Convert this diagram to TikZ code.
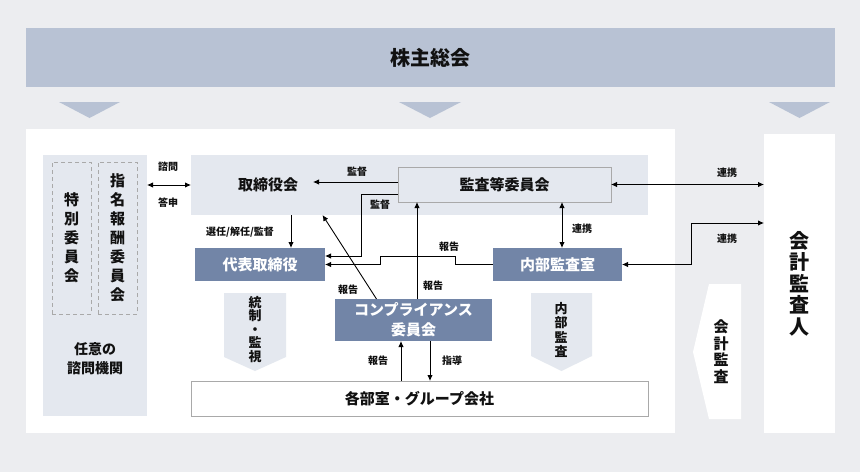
\documentclass[tikz,border=0pt]{standalone}
\usepackage{fontspec}
\setmainfont{Noto Sans CJK JP}
\usetikzlibrary{arrows.meta}
\definecolor{bgc}{HTML}{ECEDF0}
\definecolor{bandc}{HTML}{B8C2D4}
\definecolor{panelc}{HTML}{E4E8EF}
\definecolor{darkc}{HTML}{7285A7}
\definecolor{linec}{HTML}{A9A9A9}
\definecolor{txtc}{HTML}{111111}
\begin{document}
\begin{tikzpicture}[x=1pt, y=-1pt, >={Latex[length=6pt,width=5.5pt]}, text=txtc,
    box/.style={inner sep=0pt, outer sep=0pt, align=center},
    darkbox/.style={box, fill=darkc, text=white, font=\fontsize{15}{20}\selectfont\bfseries},
    dashbox/.style={box, draw=linec, line width=0.6pt, dash pattern=on 4pt off 3pt, minimum width=39pt, minimum height=152pt, font=\fontsize{15}{19}\selectfont\bfseries},
    lbl/.style={inner sep=0pt, font=\fontsize{10}{10}\selectfont\bfseries},
    conn/.style={line width=0.9pt}]
  % background
  \fill[bgc] (0,0) rectangle (860,472);
  \useasboundingbox (0,0) rectangle (860,472);
  \node[box, fill=bandc, minimum width=809pt, minimum height=59pt, font=\fontsize{20}{20}\selectfont\bfseries] (meeting) at (430.5,57.5) {株主総会};
  \fill[bandc] (59,102) -- (120,102) -- (89.5,118) -- cycle;
  \fill[bandc] (399,102) -- (461,102) -- (430,118) -- cycle;
  \fill[bandc] (769,102) -- (830,102) -- (799.5,118) -- cycle;
  % panels
  \node[box, fill=white, minimum width=649pt, minimum height=304pt] (main) at (350.5,281) {};
  \node[box, fill=white, minimum width=71pt, minimum height=299pt, font=\fontsize{20}{21.5}\selectfont\bfseries] (cpa) at (799.5,283.5) {会\\計\\監\\査\\人};
  \node[box, fill=panelc, minimum width=104pt, minimum height=261pt] (adv) at (95,285.5) {};
  \node[dashbox] (special) at (71.5,238) {特\\別\\委\\員\\会};
  \node[dashbox] (nomination) at (117.5,238) {指\\名\\報\\酬\\委\\員\\会};
  \node[box, font=\fontsize{14}{19}\selectfont\bfseries] (advlbl) at (95,359) {任意の\\諮問機関};
  \node[box, fill=panelc, minimum width=457pt, minimum height=60pt] (board) at (419.5,185) {};
  \node[box, inner xsep=15pt, font=\fontsize{15}{20}\selectfont\bfseries] (boardlbl) at (268,185) {取締役会};
  \node[box, fill=panelc, draw=linec, line width=1pt, minimum width=213pt, minimum height=35pt, font=\fontsize{15}{20}\selectfont\bfseries] (auditcom) at (504.5,184.5) {監査等委員会};
  \node[darkbox, minimum width=130pt, minimum height=33pt] (ceo) at (260,264.5) {代表取締役};
  \node[darkbox, minimum width=129pt, minimum height=33pt] (iad) at (557.5,264.5) {内部監査室};
  \node[darkbox, minimum width=157pt, minimum height=42pt] (comp) at (413.5,320) {コンプライアンス\\委員会};
  \node[box, fill=white, draw=linec, line width=1pt, minimum width=457pt, minimum height=35pt, font=\fontsize{15}{20}\selectfont\bfseries] (depts) at (419.5,398.5) {各部室・グループ会社};
  % chevrons
  \fill[panelc] (224,293) -- (286,293) -- (286,357) -- (255,371) -- (224,357) -- cycle;
  \node[box, font=\fontsize{13}{13.5}\selectfont\bfseries] (control) at (255,329.5) {統\\制\\・\\監\\視};
  \fill[panelc] (531,293) -- (592,293) -- (592,356) -- (561.5,371) -- (531,356) -- cycle;
  \node[box, font=\fontsize{13}{14.5}\selectfont\bfseries] (internal) at (561,330) {内\\部\\監\\査};
  \fill[white] (741,284) -- (741,419) -- (709,419) -- (693,352) -- (709,284) -- cycle;
  \node[box, font=\fontsize{15}{16.5}\selectfont\bfseries] (accaudit) at (721,351.5) {会\\計\\監\\査};
  % connectors
  \draw[conn, <->] (adv.east |- board.west) -- (board.west);
  \node[lbl] (l1) at (168,167) {諮問};
  \node[lbl] (l2) at (168,203) {答申};
  \draw[conn, ->] ([yshift=2.5pt]auditcom.west) -- ([yshift=2.5pt]auditcom.west -| boardlbl.east);
  \node[lbl] (l3) at (357,172) {監督};
  \draw[conn, ->] ([yshift=-9.5pt]auditcom.west) -- ++(-37,0) |- ([yshift=8.5pt]ceo.east);
  \node[lbl] (l4) at (380,205) {監督};
  \draw[conn, ->] ([xshift=-128.5pt]board.south) -- ([xshift=31pt]ceo.north);
  \node[lbl] (l5) at (240,232) {選任/解任/監督};
  \draw[conn, ->] (iad.west) -- ++(-38,0) -- ++(0,-8) -- ++(-75,0) |- (ceo.east);
  \node[lbl] (l6) at (449,247) {報告};
  \draw[conn, ->] ([xshift=-37pt]comp.north) -- ([xshift=-97pt]board.south);
  \node[lbl] (l7) at (348,290) {報告};
  \draw[conn, ->] ([xshift=3.5pt]comp.north) -- ([xshift=-87.5pt]auditcom.south);
  \node[lbl] (l8) at (433,286) {報告};
  \draw[conn, <->] ([xshift=57.5pt]auditcom.south) -- ([xshift=4.5pt]iad.north);
  \node[lbl] (l9) at (582,229) {連携};
  \draw[conn, <->] (auditcom.east) -- (auditcom.east -| cpa.west);
  \node[lbl] (l10) at (727,173) {連携};
  \draw[conn, <->] (iad.east) -- ++(69,0) |- ([yshift=60.5pt]cpa.west);
  \node[lbl] (l11) at (727,239) {連携};
  \draw[conn, ->] ([xshift=-18.5pt]depts.north) -- ([xshift=-12.5pt]comp.south);
  \node[lbl] (l12) at (378,361) {報告};
  \draw[conn, ->] ([xshift=16.5pt]comp.south) -- ([xshift=10.5pt]depts.north);
  \node[lbl] (l13) at (452,361) {指導};
\end{tikzpicture}
\end{document}
